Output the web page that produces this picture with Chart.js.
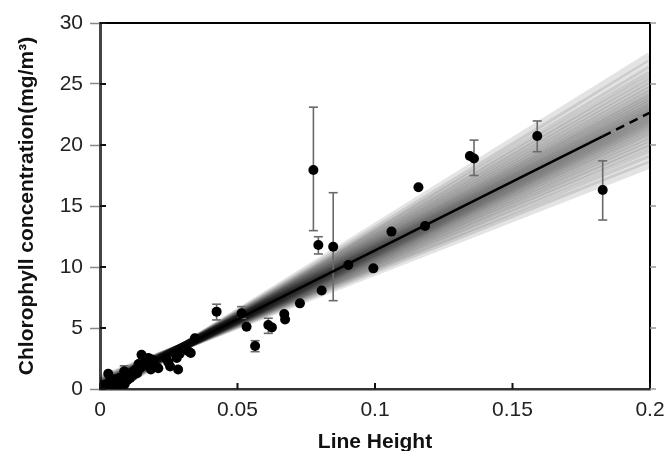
<!DOCTYPE html>
<html>
<head>
<meta charset="utf-8">
<script src="https://cdn.jsdelivr.net/npm/chart.js@4"></script>
<style>
  html, body { margin: 0; padding: 0; background: #fff; }
  #wrap { width: 668px; height: 451px; }
</style>
</head>
<body>
<div id="wrap"><canvas id="chlChart" width="668" height="451"></canvas></div>
<script>
// measured samples
const pointX = [0.0010, 0.0015, 0.0020, 0.0030, 0.0032, 0.0040, 0.0045, 0.0050, 0.0055, 0.0060,
  0.0065, 0.0070, 0.0075, 0.0080, 0.0088, 0.0090, 0.0095, 0.0100, 0.0105, 0.0110,
  0.0115, 0.0120, 0.0127, 0.0135, 0.0140, 0.0145, 0.0151, 0.0160, 0.0165, 0.0176,
  0.0185, 0.0190, 0.0200, 0.0212, 0.0240, 0.0248, 0.0255, 0.0279, 0.0284, 0.0290,
  0.0321, 0.0330, 0.0345, 0.0424, 0.0515, 0.0533, 0.0564, 0.0612, 0.0625, 0.0670,
  0.0673, 0.0727, 0.0776, 0.0794, 0.0806, 0.0848, 0.0903, 0.0994, 0.1060, 0.1158,
  0.1182, 0.1345, 0.1360, 0.1590, 0.1828];
const pointY = [0.10, 0.35, 0.20, 1.25, 0.55, 0.15, 0.45, 0.80, 0.30, 0.60,
  0.20, 0.90, 0.45, 0.70, 1.45, 0.40, 1.00, 0.75, 1.20, 0.90,
  1.35, 1.10, 1.56, 1.30, 2.05, 1.70, 2.80, 1.95, 2.25, 2.55,
  1.60, 2.40, 1.95, 1.70, 2.50, 2.20, 1.85, 2.55, 1.60, 2.90,
  3.10, 2.95, 4.15, 6.34, 6.20, 5.10, 3.52, 5.25, 5.05, 6.15,
  5.70, 7.02, 17.95, 11.80, 8.08, 11.66, 10.16, 9.89, 12.90, 16.53,
  13.36, 19.10, 18.90, 20.74, 16.31];

// error bars
const errX = [0.0088, 0.0424, 0.0515, 0.0564, 0.0612, 0.0776, 0.0794, 0.0848, 0.1360, 0.1590, 0.1828];
const errLow = [1.05, 5.66, 5.80, 3.06, 4.56, 12.98, 11.07, 7.24, 17.50, 19.45, 13.85];
const errHigh = [1.90, 6.95, 6.75, 3.96, 5.80, 23.10, 12.48, 16.09, 20.40, 21.97, 18.70];

// fitted line (solid over the data, dashed beyond)
const fitX = [0, 0.1828];
const fitY = [0.07, 20.71];
const extX = [0.1828, 0.2];
const extY = [20.71, 22.65];

// uncertainty fan: line values at x = 0 and x = 0.2
const fanStart = [0.82, 0.73, 0.66, 0.59, 0.54, 0.49, 0.43, 0.39, 0.35, 0.31, 0.28, 0.24,
  0.21, 0.19, 0.16, 0.13, 0.11, 0.08, 0.06, 0.03, 0.00, -0.02, -0.06, -0.10, -0.13,
  -0.17, -0.21, -0.25, -0.31, -0.36, -0.42, -0.48, -0.55, -0.64, -0.75];
const fanEnd = [18.4, 18.9, 19.3, 19.7, 20.0, 20.3, 20.6, 20.85, 21.1, 21.3, 21.5, 21.7,
  21.85, 22.0, 22.15, 22.3, 22.45, 22.6, 22.75, 22.9, 23.05, 23.2, 23.4, 23.6, 23.8,
  24.0, 24.25, 24.5, 24.8, 25.1, 25.45, 25.8, 26.2, 26.7, 27.3];

const xTicks = [0, 0.05, 0.1, 0.15, 0.2];
const yTicks = [0, 5, 10, 15, 20, 25, 30];

const FONT = '"Liberation Sans", Arial, sans-serif';

const datasets = [];

fanStart.forEach((s, i) => {
  datasets.push({
    data: [{x: 0, y: s}, {x: 0.2, y: fanEnd[i]}],
    showLine: true,
    pointRadius: 0,
    borderColor: 'rgba(0,0,0,0.11)',
    borderWidth: 8,
    order: 10,
  });
});

errX.forEach((x, i) => {
  datasets.push({
    data: [{x: x, y: errLow[i]}, {x: x, y: errHigh[i]}],
    showLine: true,
    borderColor: '#6a6a6a',
    borderWidth: 1.6,
    pointStyle: 'line',
    pointRadius: 4.5,
    pointBorderColor: '#6a6a6a',
    pointBorderWidth: 1.6,
    order: 4,
  });
});

datasets.push({
  data: fitX.map((x, i) => ({x: x, y: fitY[i]})),
  showLine: true,
  pointRadius: 0,
  borderColor: '#000',
  borderWidth: 2.5,
  order: 3,
});
datasets.push({
  data: extX.map((x, i) => ({x: x, y: extY[i]})),
  showLine: true,
  pointRadius: 0,
  borderColor: '#000',
  borderWidth: 2.5,
  borderDash: [9, 6],
  order: 3,
});
datasets.push({
  data: pointX.map((x, i) => ({x: x, y: pointY[i]})),
  pointRadius: 5,
  pointBackgroundColor: '#000',
  pointBorderColor: '#000',
  pointBorderWidth: 0,
  order: 1,
});

// box frame, inward ticks on bottom/left, outward ticks on right
const framePlugin = {
  id: 'frame',
  afterDraw(chart) {
    const {ctx, chartArea: a, scales} = chart;
    ctx.save();
    ctx.strokeStyle = '#000';
    ctx.lineWidth = 2;
    ctx.beginPath();
    ctx.moveTo(a.left, a.top);
    ctx.lineTo(a.right, a.top);
    ctx.lineTo(a.right, a.bottom);
    ctx.stroke();

    ctx.lineWidth = 2;
    ctx.strokeStyle = '#111';
    ctx.beginPath();
    scales.x.ticks.forEach(t => {
      const px = scales.x.getPixelForValue(t.value);
      ctx.moveTo(px, a.bottom);
      ctx.lineTo(px, a.bottom - 6);
    });
    scales.y.ticks.forEach(t => {
      const py = scales.y.getPixelForValue(t.value);
      ctx.moveTo(a.left, py);
      ctx.lineTo(a.left + 6, py);
    });
    ctx.stroke();

    ctx.strokeStyle = '#999';
    ctx.lineWidth = 1.5;
    ctx.beginPath();
    scales.y.ticks.forEach(t => {
      const py = scales.y.getPixelForValue(t.value);
      ctx.moveTo(a.right, py);
      ctx.lineTo(a.right + 6, py);
    });
    ctx.stroke();
    ctx.restore();
  }
};

const ctx = document.getElementById('chlChart').getContext('2d');
const myChart = new Chart(ctx, {
  type: 'scatter',
  data: {datasets: datasets},
  options: {
    responsive: false,
    animation: false,
    layout: {padding: {top: 23, right: 18, left: 0, bottom: 0}},
    plugins: {
      legend: {display: false},
      tooltip: {enabled: false},
    },
    scales: {
      x: {
        type: 'linear',
        min: 0,
        max: 0.2,
        afterFit: s => { s.height = 62; s.paddingLeft = 0; s.paddingRight = 0; },
        afterBuildTicks: s => { s.ticks = xTicks.map(v => ({value: v})); },
        ticks: {
          color: '#222',
          padding: 9,
          font: {family: FONT, size: 21},
          maxRotation: 0,
          callback: v => String(v),
        },
        grid: {display: true, drawOnChartArea: false, drawTicks: false},
        border: {display: true, color: '#333', width: 2.5},
        title: {
          display: true,
          text: 'Line Height',
          color: '#111',
          font: {family: FONT, size: 21, weight: 'bold', lineHeight: 1},
          padding: {top: 0, bottom: -2},
        },
      },
      y: {
        type: 'linear',
        min: 0,
        max: 30,
        afterFit: s => { s.width = 100; },
        afterBuildTicks: s => { s.ticks = yTicks.map(v => ({value: v})); },
        ticks: {
          color: '#222',
          padding: 7,
          font: {family: FONT, size: 21},
        },
        grid: {display: true, drawOnChartArea: false, drawTicks: true, tickLength: 10, color: '#888', tickWidth: 1.5},
        border: {display: true, color: '#444', width: 3},
        title: {
          display: true,
          text: 'Chlorophyll concentration(mg/m³)',
          color: '#111',
          font: {family: FONT, size: 21, weight: 'bold', lineHeight: 1},
          padding: {top: 17, bottom: 0},
        },
      },
    },
  },
  plugins: [framePlugin],
});
</script>
</body>
</html>
